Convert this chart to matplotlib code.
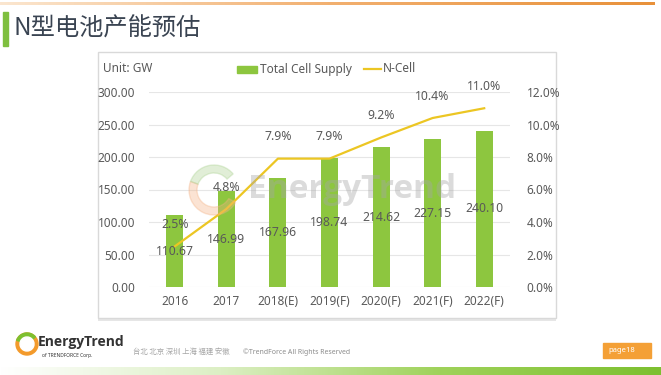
import numpy as np
import matplotlib
matplotlib.use("Agg")
import matplotlib.pyplot as plt
from matplotlib.colors import LinearSegmentedColormap
from matplotlib.patches import Rectangle, Wedge

plt.rcParams['font.family'] = ['Noto Sans', 'Noto Sans CJK SC', 'DejaVu Sans']

years = ['2016', '2017', '2018(E)', '2019(F)', '2020(F)', '2021(F)', '2022(F)']
supply = [110.67, 146.99, 167.96, 198.74, 214.62, 227.15, 240.10]
ncell = [2.5, 4.8, 7.9, 7.9, 9.2, 10.4, 11.0]

green = '#8dc63f'
yellow = '#ecc623'
txt = '#595959'

W, H = 661, 375
fig = plt.figure(figsize=(W / 100, H / 100), dpi=100)
fig.patch.set_facecolor('white')

# background layer in pixel coordinates (y down)
bg = fig.add_axes([0, 0, 1, 1], zorder=0)
bg.axis('off')

grad = np.linspace(0, 1, 256).reshape(1, -1)
bg.imshow(grad, extent=(0, 655, 5, 2), aspect='auto',
          cmap=LinearSegmentedColormap.from_list('o', ['#fbe6cf', '#f2b070', '#e8913a']))
bg.imshow(grad, extent=(0, W, H, 367), aspect='auto',
          cmap=LinearSegmentedColormap.from_list('g', ['#ffffff', '#dcefc4', '#9fd25a', '#7dc030']))
bg.set_xlim(0, W)
bg.set_ylim(H, 0)

# title
bg.add_patch(Rectangle((3, 12), 5, 34, color='#7fbf3f'))
bg.text(14, 29, 'N型电池产能预估', fontsize=17.5, color='#3a4452', va='center',
        family=['Noto Sans CJK SC', 'DejaVu Sans'])

# chart box
bg.add_patch(Rectangle((98, 318), 458, 3, facecolor='#e6e6e6', edgecolor='none'))
bg.add_patch(Rectangle((98, 52), 458, 266, facecolor='white', edgecolor='#d9d9d9', lw=1))

# legend + unit
bg.text(103, 69, 'Unit: GW', fontsize=8.5, color=txt, va='center')
bg.add_patch(Rectangle((237, 66), 20, 7, color=green))
bg.text(260, 69, 'Total Cell Supply', fontsize=8.5, color=txt, va='center')
bg.plot([364, 381], [69, 69], color=yellow, lw=1.6)
bg.text(383, 69, 'N-Cell', fontsize=8.5, color=txt, va='center')

# footer
bg.add_patch(Wedge((27, 344), 11, 0, 360, color='#f39a2b'))
bg.add_patch(Wedge((27, 344), 11, 200, 320, color='#7dc030'))
bg.add_patch(Wedge((27, 344), 7, 0, 360, color='#ffffff'))
bg.text(38, 342, 'EnergyTrend', fontsize=10, color='#333333', va='center',
        family='Open Sans', fontweight='bold')
bg.text(42, 356, 'of TRENDFORCE Corp.', fontsize=3.5, color='#333333', va='center')
bg.text(133, 352, '台北 北京 深圳 上海 福建 安徽', fontsize=5.3, color='#a6a6a6', va='center',
        family=['Noto Sans CJK SC', 'DejaVu Sans'])
bg.text(243, 352, '©TrendForce All Rights Reserved', fontsize=5, color='#8c8c8c', va='center')
bg.add_patch(Rectangle((603, 343), 48, 15, color='#f4a036'))
bg.text(608, 351, 'page18', fontsize=5.5, color='white', va='center')

# chart
ax = fig.add_axes([149 / W, 1 - 287 / H, 361 / W, 195 / H], zorder=2)
ax.patch.set_alpha(0)
ax2 = ax.twinx()
x = np.arange(len(years))

ax.bar(x, supply, width=0.33, color=green, zorder=2)
ax.set_ylim(0, 300)
ax.set_yticks(np.arange(0, 301, 50))
ax.set_yticklabels([f'{v:.2f}' for v in np.arange(0, 301, 50)])
ax.set_xlim(-0.5, len(years) - 0.5)
ax.set_xticks(x)
ax.set_xticklabels(years)
ax.grid(axis='y', color='#e6e6e6', lw=0.8, zorder=0)
ax.set_axisbelow(True)
for s in list(ax.spines.values()) + list(ax2.spines.values()):
    s.set_visible(False)
ax.tick_params(length=0, labelsize=8.5, colors=txt, pad=6)
ax.tick_params(axis='y', pad=10)

ax2.plot(x, ncell, color=yellow, lw=1.6, zorder=3)
ax2.set_ylim(0, 12)
ax2.set_yticks(np.arange(0, 12.1, 2))
ax2.set_yticklabels([f'{v:.1f}%' for v in np.arange(0, 12.1, 2)])
ax2.tick_params(length=0, labelsize=8.5, colors=txt, pad=12)

for i, v in enumerate(supply):
    ax2.text(i, v / 2 / 25, f'{v:.2f}', ha='center', va='center', fontsize=8.8, color=txt, zorder=5)
for i, v in enumerate(ncell):
    ax2.annotate(f'{v:.1f}%', (i, v), xytext=(0, 11), textcoords='offset points',
                 ha='center', va='bottom', fontsize=8.8, color=txt, zorder=5)

# watermark overlay
wm = fig.add_axes([0, 0, 1, 1], zorder=3)
wm.set_xlim(0, W)
wm.set_ylim(H, 0)
wm.axis('off')
wm.add_patch(Wedge((214, 190), 25, 30, 200, width=8, color='#f4b183', alpha=0.35))
wm.add_patch(Wedge((214, 190), 25, 200, 320, width=8, color='#a9d18e', alpha=0.35))
wm.text(248, 190, 'EnergyTrend', fontsize=24, color='#a6a6a6', alpha=0.4,
        ha='left', va='center', family='Open Sans', fontweight='bold')

fig.savefig('out.png', dpi=100)
